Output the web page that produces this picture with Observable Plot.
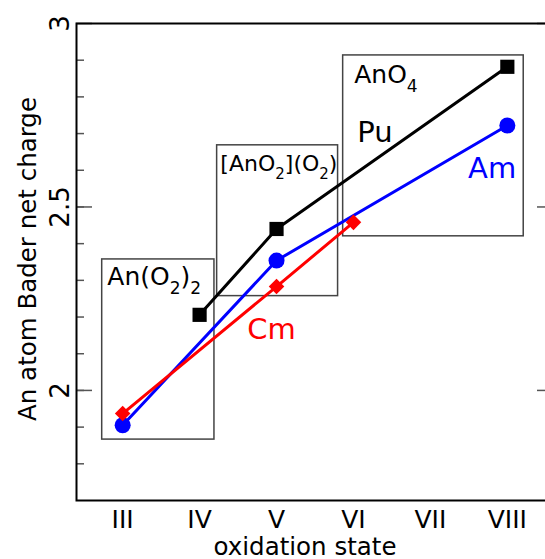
<!DOCTYPE html>
<html><head><meta charset="utf-8">
<script src="https://cdn.jsdelivr.net/npm/d3@7"></script>
<script src="https://cdn.jsdelivr.net/npm/@observablehq/plot@0.6"></script>
<style>
body{margin:0;background:#fff}
#chart svg{font-family:"DejaVu Sans",sans-serif;background:#fff}
</style>
</head><body><div id="chart"></div>
<script>
// oxidation states (x) and their labels
const states = [3, 4, 5, 6, 7, 8];
const stateLabels = ["III", "IV", "V", "VI", "VII", "VIII"];
// series
const puX = [4, 5, 8];
const puY = [2.206, 2.440, 2.882];
const amX = [3, 5, 8];
const amY = [1.905, 2.354, 2.722];
const cmX = [3, 5, 6];
const cmY = [1.937, 2.283, 2.458];
// y ticks
const majorTicks = [2, 2.5, 3];
const majorLabels = ["2", "2.5", "3"];
const minorTicks = [1.8, 1.9, 2.0, 2.1, 2.2, 2.3, 2.4, 2.5, 2.6, 2.7, 2.8, 2.9];
// structure boxes
const boxLabels = ["An(O_2)_2", "[AnO_2](O_2)", "AnO_4"];
const boxX1 = [2.734, 4.228, 5.866];
const boxX2 = [4.193, 5.800, 8.213];
const boxY1 = [1.866, 2.257, 2.420];
const boxY2 = [2.357, 2.668, 2.913];
const boxLabelX = [2.80, 4.27, 6.01];
const boxLabelY = [2.286, 2.599, 2.837];
// series labels
const seriesNames = ["Pu", "Am", "Cm"];
const seriesColors = ["#000000", "#0000ff", "#ff0000"];
const seriesLabelX = [6.05, 7.49, 4.62];
const seriesLabelY = [2.676, 2.580, 2.139];

const W = 545, H = 559, ML = 76, MR = -8, MT = 23, MB = 59;
const frameW = W - ML - MR;
const FONT = '"DejaVu Sans", sans-serif';

const mk = (xs, ys) => xs.map((x, i) => ({x, y: ys[i]}));
const pu = mk(puX, puY), am = mk(amX, amY), cm = mk(cmX, cmY);
const boxes = boxLabels.map((l, i) => ({l, x1: boxX1[i], x2: boxX2[i], y1: boxY1[i], y2: boxY2[i], tx: boxLabelX[i], ty: boxLabelY[i]}));
const slabels = seriesNames.map((n, i) => ({n, c: seriesColors[i], x: seriesLabelX[i], y: seriesLabelY[i]}));

const plot = Plot.plot({
  width: W, height: H,
  marginLeft: ML, marginRight: MR, marginTop: MT, marginBottom: MB,
  style: {fontFamily: FONT, fontSize: "25px", background: "#fff", color: "#000"},
  x: {domain: [2.4, 8.6], axis: null},
  y: {domain: [1.7, 3.0], axis: null},
  marks: [
    Plot.rect(boxes, {x1: "x1", x2: "x2", y1: "y1", y2: "y2", fill: "none", stroke: "#444", strokeWidth: 1.5}),
    // minor ticks left / right
    Plot.tickY(minorTicks, {y: d => d, stroke: "#555", strokeWidth: 1.5, insetRight: frameW - 8}),
    Plot.tickY(minorTicks, {y: d => d, stroke: "#555", strokeWidth: 1.5, insetLeft: frameW - 8}),
    Plot.tickY(majorTicks, {y: d => d, stroke: "#555", strokeWidth: 1.5, insetRight: frameW - 16}),
    Plot.tickY(majorTicks, {y: d => d, stroke: "#555", strokeWidth: 1.5, insetLeft: frameW - 16}),
    // y tick labels
    Plot.text(majorTicks, {y: d => d, text: (d, i) => majorLabels[i], frameAnchor: "left", rotate: -90, lineAnchor: "bottom", textAnchor: "middle", dx: -8, fontSize: 26}),
    // x axis labels
    Plot.axisX({ticks: states, tickFormat: d => stateLabels[states.indexOf(d)], tickSize: 0, tickPadding: 10, fontSize: 25, label: null}),
    Plot.text(["oxidation state"], {frameAnchor: "bottom", textAnchor: "middle", lineAnchor: "bottom", dy: 54, dx: -10, fontSize: 24.5}),
    Plot.text(["An atom Bader net charge"], {frameAnchor: "left", rotate: -90, textAnchor: "middle", lineAnchor: "bottom", dx: -41, dy: -3, fontSize: 24.5}),
    // series lines
    Plot.line(am, {x: "x", y: "y", stroke: "#0000ff", strokeWidth: 3}),
    Plot.dot(am, {x: "x", y: "y", r: 8, fill: "#0000ff", symbol: "circle"}),
    Plot.line(cm, {x: "x", y: "y", stroke: "#ff0000", strokeWidth: 3}),
    Plot.dot(cm, {x: "x", y: "y", r: 7, fill: "#ff0000", symbol: "diamond2"}),
    Plot.line(pu, {x: "x", y: "y", stroke: "#000000", strokeWidth: 3}),
    Plot.dot(pu, {x: "x", y: "y", r: 8, fill: "#000000", symbol: "square"}),
    // labels
    Plot.text(boxes, {x: "tx", y: "ty", text: "l", textAnchor: "start", lineAnchor: "bottom", fontSize: d => (d.l.length > 10 ? 22 : 25), fill: "#000"}),
    Plot.text(slabels, {x: "x", y: "y", text: "n", fill: "c", textAnchor: "start", lineAnchor: "bottom", fontSize: 29}),
    Plot.frame({stroke: "#000", strokeWidth: 2})
  ]
});

// subscripts
plot.querySelectorAll("text").forEach(t => {
  const s = t.textContent;
  if (!s.includes("_")) return;
  const fs = parseFloat(getComputedStyle(t).fontSize) || parseFloat(t.getAttribute("font-size")) || 25;
  t.textContent = "";
  const parts = s.split(/(_\d)/);
  let sub = false;
  const drop = (0.36 * fs).toFixed(1);
  parts.forEach(p => {
    if (!p) return;
    const ts = document.createElementNS("http://www.w3.org/2000/svg", "tspan");
    if (p[0] === "_") {
      ts.textContent = p.slice(1);
      ts.setAttribute("font-size", (0.68 * fs).toFixed(1));
      if (!sub) ts.setAttribute("dy", drop);
      sub = true;
    } else {
      ts.textContent = p;
      if (sub) ts.setAttribute("dy", "-" + drop);
      sub = false;
    }
    t.appendChild(ts);
  });
});

document.getElementById("chart").appendChild(plot);
</script>
</body></html>
